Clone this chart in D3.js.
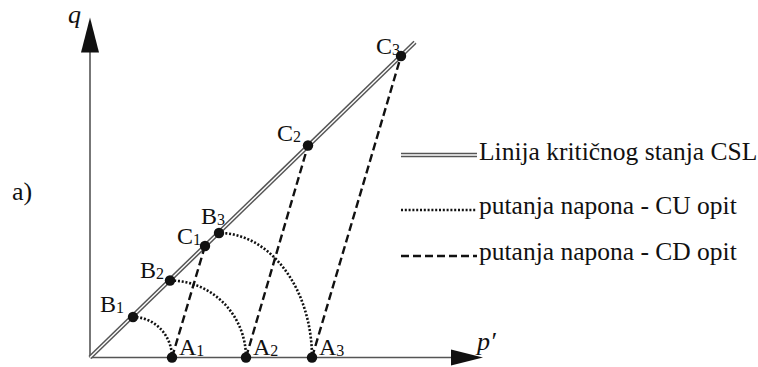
<!DOCTYPE html>
<html>
<head>
<meta charset="utf-8">
<script src="https://cdn.jsdelivr.net/npm/d3@7"></script>
<style>
  html, body { margin: 0; padding: 0; background: #fff; }
  svg { display: block; }
</style>
</head>
<body>
<svg id="chart" width="758" height="367"></svg>
<script>
// Stress paths in the p'–q plane (arbitrary units)
const startLabels = ["A", "A", "A"];
const startP = [8.2, 15.6, 22.2];          // isotropic consolidation points A1..A3 (q = 0)
const cuLabels = ["B", "B", "B"];
const cuP = [4.3, 8.0, 12.9];              // undrained failure points B1..B3
const cuQ = [4.05, 7.7, 12.45];
const cdLabels = ["C", "C", "C"];
const cdP = [11.5, 21.8, 31.1];            // drained failure points C1..C3
const cdQ = [11.15, 21.2, 30.15];
const cslSlope = 0.97;                     // M
const cslEndP = 32.5;
const legendLabels = [
  "Linija kritičnog stanja CSL",
  "putanja napona - CU opit",
  "putanja napona - CD opit"
];

const FONT = "Liberation Serif";
const svg = d3.select("#chart");
const x = d3.scaleLinear().domain([0, 39.3]).range([90, 483]);
const y = d3.scaleLinear().domain([0, 34]).range([357.5, 17.5]);

const ink = "#111";
const axisColor = "#555";

function txt(px, py, size) {
  return svg.append("text").attr("x", px).attr("y", py)
    .attr("font-family", FONT).attr("font-size", size).attr("fill", ink);
}

// axes with arrow heads
const axisLine = d3.line().x(d => x(d[0])).y(d => y(d[1]));
svg.append("path").attr("d", axisLine([[0, 0], [36.5, 0]]))
  .attr("stroke", axisColor).attr("stroke-width", 1.6).attr("fill", "none");
svg.append("path").attr("d", axisLine([[0, 0], [0, 31]]))
  .attr("stroke", axisColor).attr("stroke-width", 1.6).attr("fill", "none");

const xTip = [x(39.3), y(0)], yTip = [x(0), y(34)];
svg.append("path")
  .attr("d", `M${xTip[0]},${xTip[1]} L${xTip[0] - 32},${xTip[1] - 8} L${xTip[0] - 32},${xTip[1] + 8} Z`)
  .attr("fill", ink);
svg.append("path")
  .attr("d", `M${yTip[0]},${yTip[1]} L${yTip[0] - 9},${yTip[1] + 35} L${yTip[0] + 9},${yTip[1] + 35} Z`)
  .attr("fill", ink);

// axis titles
txt(yTip[0] - 22, 23, 26).attr("font-style", "italic").text("q");
txt(xTip[0] - 6, 350, 26).attr("font-style", "italic").text("p\u2032");
txt(12, 200, 26).text("a)");

// critical state line drawn as a double line
const csl = [[0, 0], [cslEndP, cslSlope * cslEndP]];
svg.append("path").attr("d", axisLine(csl))
  .attr("stroke", "#555").attr("stroke-width", 4.4).attr("fill", "none");
svg.append("path").attr("d", axisLine(csl))
  .attr("stroke", "#fff").attr("stroke-width", 1.4).attr("fill", "none");

// undrained (CU) paths: quarter-elliptic arcs from A to B
const arcT = d3.range(0, 1.0001, 1 / 60).map(f => f * Math.PI / 2);
startP.forEach((ap, i) => {
  const pts = arcT.map(t => [cuP[i] + (ap - cuP[i]) * Math.cos(t), cuQ[i] * Math.sin(t)]);
  svg.append("path").attr("d", axisLine(pts))
    .attr("stroke", ink).attr("stroke-width", 2.6).attr("fill", "none")
    .attr("stroke-dasharray", "2,1.8");
});

// drained (CD) paths: straight lines from A to C
startP.forEach((ap, i) => {
  svg.append("path").attr("d", axisLine([[ap, 0], [cdP[i], cdQ[i]]]))
    .attr("stroke", ink).attr("stroke-width", 2.4).attr("fill", "none")
    .attr("stroke-dasharray", "8,4");
});

// points and labels
function label(px, py, letter, idx, anchor) {
  const t = txt(px, py, 24).attr("text-anchor", anchor || "start");
  t.append("tspan").text(letter);
  t.append("tspan").attr("font-size", 16).attr("dy", 1).text(String(idx + 1));
}

const pts = [];
startP.forEach((p, i) => pts.push({ p, q: 0, l: startLabels[i], i, dx: 7, dy: -3, a: "start" }));
cuP.forEach((p, i) => pts.push({ p, q: cuQ[i], l: cuLabels[i], i,
  dx: [-9, -6, 6][i], dy: [-5, -3, -9][i], a: "end" }));
cdP.forEach((p, i) => pts.push({ p, q: cdQ[i], l: cdLabels[i], i,
  dx: [-4, -7, -1][i], dy: [-2, -5, -2][i], a: "end" }));

svg.selectAll("circle.pt").data(pts).join("circle").attr("class", "pt")
  .attr("cx", d => x(d.p)).attr("cy", d => y(d.q)).attr("r", 5.2).attr("fill", ink);
pts.forEach(d => label(x(d.p) + d.dx, y(d.q) + d.dy, d.l, d.i, d.a));

// legend
const legX0 = 401, legX1 = 477;
const legY = [155, 210, 256];
const legBase = [160, 214, 260];
svg.append("line").attr("x1", legX0).attr("x2", legX1).attr("y1", legY[0]).attr("y2", legY[0])
  .attr("stroke", "#555").attr("stroke-width", 4.4);
svg.append("line").attr("x1", legX0).attr("x2", legX1).attr("y1", legY[0]).attr("y2", legY[0])
  .attr("stroke", "#fff").attr("stroke-width", 1.4);
svg.append("line").attr("x1", legX0).attr("x2", legX1).attr("y1", legY[1]).attr("y2", legY[1])
  .attr("stroke", ink).attr("stroke-width", 2.6).attr("stroke-dasharray", "2,1.8");
svg.append("line").attr("x1", legX0).attr("x2", legX1).attr("y1", legY[2]).attr("y2", legY[2])
  .attr("stroke", ink).attr("stroke-width", 2.4).attr("stroke-dasharray", "8,4");

legendLabels.forEach((s, i) => {
  txt(legX1 + 2, legBase[i], 25.5).text(s);
});
</script>
</body>
</html>
